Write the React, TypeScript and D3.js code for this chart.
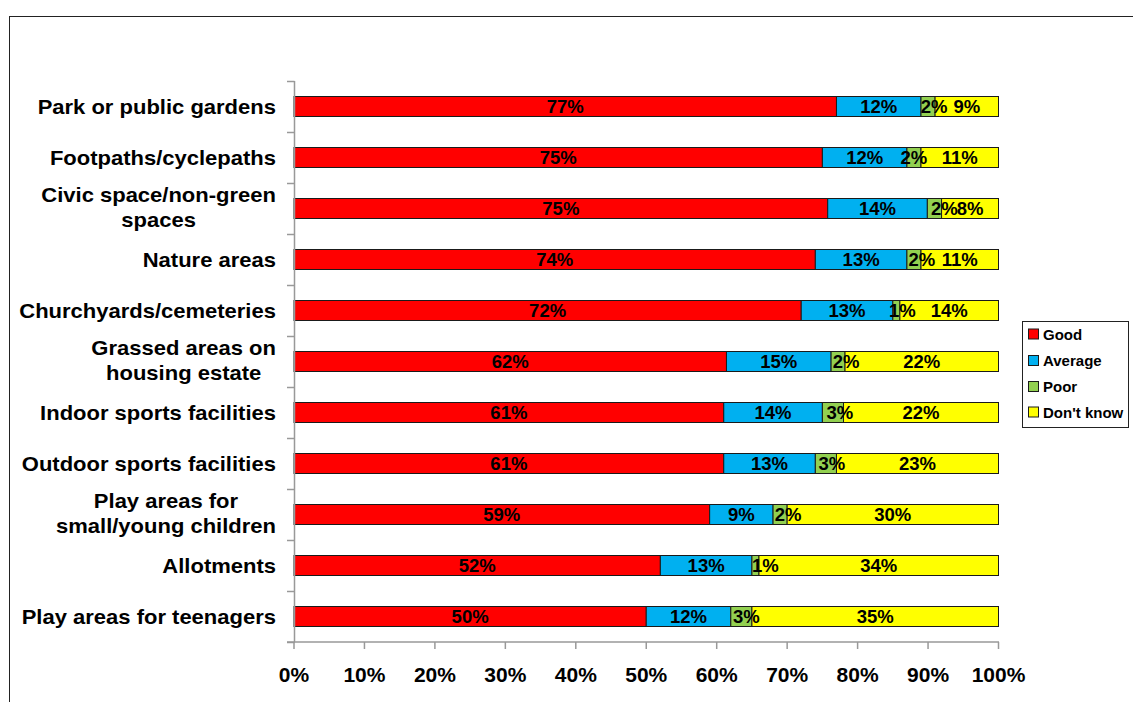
import React, { useEffect, useRef } from 'react';
import * as d3 from 'd3';

const categories = [
  'Park or public gardens',
  'Footpaths/cyclepaths',
  'Civic space/non-green spaces',
  'Nature areas',
  'Churchyards/cemeteries',
  'Grassed areas on housing estate',
  'Indoor sports facilities',
  'Outdoor sports facilities',
  'Play areas for small/young children',
  'Allotments',
  'Play areas for teenagers',
];
const categoryLines = [
  ['Park or public gardens'],
  ['Footpaths/cyclepaths'],
  ['Civic space/non-green', 'spaces'],
  ['Nature areas'],
  ['Churchyards/cemeteries'],
  ['Grassed areas on', 'housing estate'],
  ['Indoor sports facilities'],
  ['Outdoor sports facilities'],
  ['Play areas for', 'small/young children'],
  ['Allotments'],
  ['Play areas for teenagers'],
];
const good = [77, 75, 75, 74, 72, 62, 61, 61, 59, 52, 50];
const average = [12, 12, 14, 13, 13, 15, 14, 13, 9, 13, 12];
const poor = [2, 2, 2, 2, 1, 2, 3, 3, 2, 1, 3];
const dontKnow = [9, 11, 8, 11, 14, 22, 22, 23, 30, 34, 35];
const seriesNames = ['Good', 'Average', 'Poor', "Don't know"];
const seriesColors = ['#FF0000', '#00B0F0', '#92D050', '#FFFF00'];
const tickValues = [0, 0.1, 0.2, 0.3, 0.4, 0.5, 0.6, 0.7, 0.8, 0.9, 1.0];
// horizontal nudges of the "Poor" data labels (style, in px), as placed in the original
const poorLabelDx = [6, 0, 10, 8, 6, 8, 7, 6, 8, 10, 5];

const FONT = 'Liberation Sans, Arial, sans-serif';

export default function App() {
  const ref = useRef<SVGSVGElement>(null);

  useEffect(() => {
    const svg = d3.select(ref.current);
    svg.selectAll('*').remove();

    const rows = categories.map((c, i) => ({
      cat: c,
      idx: i,
      Good: good[i],
      Average: average[i],
      Poor: poor[i],
      "Don't know": dontKnow[i],
    }));
    const stack = d3.stack<any>().keys(seriesNames).offset(d3.stackOffsetExpand);
    const layers = stack(rows);

    const x = d3.scaleLinear().domain([0, 1]).range([294, 998.5]);
    const y = d3.scaleBand<string>().domain(categories).range([81, 642]).padding(0);
    const barH = 20;

    // outer border
    svg.append('rect')
      .attr('x', 9.5).attr('y', 16.5).attr('width', 1200).attr('height', 800)
      .attr('fill', 'white').attr('stroke', '#222').attr('stroke-width', 1);

    // bars
    layers.forEach((layer, si) => {
      const g = svg.append('g');
      g.selectAll('rect').data(layer).enter().append('rect')
        .attr('x', (d: any) => x(d[0]))
        .attr('y', (d: any) => (y(d.data.cat) as number) + (y.bandwidth() - barH) / 2)
        .attr('width', (d: any) => x(d[1]) - x(d[0]))
        .attr('height', barH)
        .attr('fill', seriesColors[si])
        .attr('stroke', '#1a1a1a')
        .attr('stroke-width', 1);
    });

    // data labels
    layers.forEach((layer, si) => {
      const key = seriesNames[si];
      layer.forEach((d: any) => {
        const dx = key === 'Poor' ? poorLabelDx[d.data.idx] : 0;
        const cx = (x(d[0]) + x(d[1])) / 2 + dx;
        const cy = (y(d.data.cat) as number) + y.bandwidth() / 2;
        svg.append('text')
          .attr('x', cx)
          .attr('y', cy + 6.5)
          .attr('text-anchor', 'middle')
          .attr('font-family', FONT)
          .attr('font-weight', 'bold')
          .attr('font-size', 18.5)
          .attr('fill', '#000')
          .text(`${d.data[key]}%`);
      });
    });

    // y axis
    const axisColor = '#999';
    svg.append('line')
      .attr('x1', 294.5).attr('x2', 294.5).attr('y1', 81).attr('y2', 642)
      .attr('stroke', axisColor).attr('stroke-width', 1.5);
    const yTicks = categories.map((c) => y(c) as number).concat([642]);
    yTicks.forEach((t) => {
      svg.append('line')
        .attr('x1', 287).attr('x2', 294.5).attr('y1', Math.round(t) + 0.5).attr('y2', Math.round(t) + 0.5)
        .attr('stroke', axisColor).attr('stroke-width', 1.5);
    });

    // x axis
    svg.append('line')
      .attr('x1', 287).attr('x2', 999).attr('y1', 642).attr('y2', 642)
      .attr('stroke', axisColor).attr('stroke-width', 1.5);
    tickValues.forEach((t) => {
      svg.append('line')
        .attr('x1', x(t)).attr('x2', x(t)).attr('y1', 642).attr('y2', 649)
        .attr('stroke', axisColor).attr('stroke-width', 1.5);
      svg.append('text')
        .attr('x', x(t)).attr('y', 682)
        .attr('text-anchor', 'middle')
        .attr('font-family', FONT).attr('font-weight', 'bold').attr('font-size', 21)
        .attr('fill', '#000')
        .text(`${Math.round(t * 100)}%`);
    });

    // category labels
    const sx = 1.1;
    categories.forEach((c, i) => {
      const lines = categoryLines[i];
      const cy = (y(c) as number) + y.bandwidth() / 2;
      const texts = lines.map((ln, li) => {
        const ly = lines.length === 1 ? cy + 7 : cy - 1 + (li === 0 ? -12.5 : 12.5) + 7;
        return svg.append('text')
          .attr('data-ly', ly)
          .attr('text-anchor', 'middle')
          .attr('font-family', FONT).attr('font-weight', 'bold').attr('font-size', 20)
          .attr('fill', '#000')
          .text(ln);
      });
      const widths = texts.map((t) => (t.node() as SVGTextElement).getComputedTextLength() * sx);
      const maxW = Math.max(...widths);
      const center = 276 - maxW / 2;
      texts.forEach((t) => {
        const ly = +t.attr('data-ly');
        t.attr('transform', `translate(${center},${ly}) scale(${sx},1)`);
      });
    });

    // legend
    svg.append('rect')
      .attr('x', 1022.5).attr('y', 321.5).attr('width', 106).attr('height', 106)
      .attr('fill', 'white').attr('stroke', '#222').attr('stroke-width', 1);
    const legendY = [334, 360.5, 386.5, 412];
    seriesNames.forEach((s, i) => {
      svg.append('rect')
        .attr('x', 1028.5).attr('y', legendY[i] - 5).attr('width', 10).attr('height', 10)
        .attr('fill', seriesColors[i]).attr('stroke', '#1a1a1a').attr('stroke-width', 1);
      svg.append('text')
        .attr('x', 1043).attr('y', legendY[i] + 5.5)
        .attr('font-family', FONT).attr('font-weight', 'bold').attr('font-size', 15)
        .attr('fill', '#000')
        .text(s);
    });
  }, []);

  return (
    <svg
      ref={ref}
      width={1133}
      height={702}
      style={{ position: 'absolute', left: 0, top: 0, background: 'white' }}
    />
  );
}
